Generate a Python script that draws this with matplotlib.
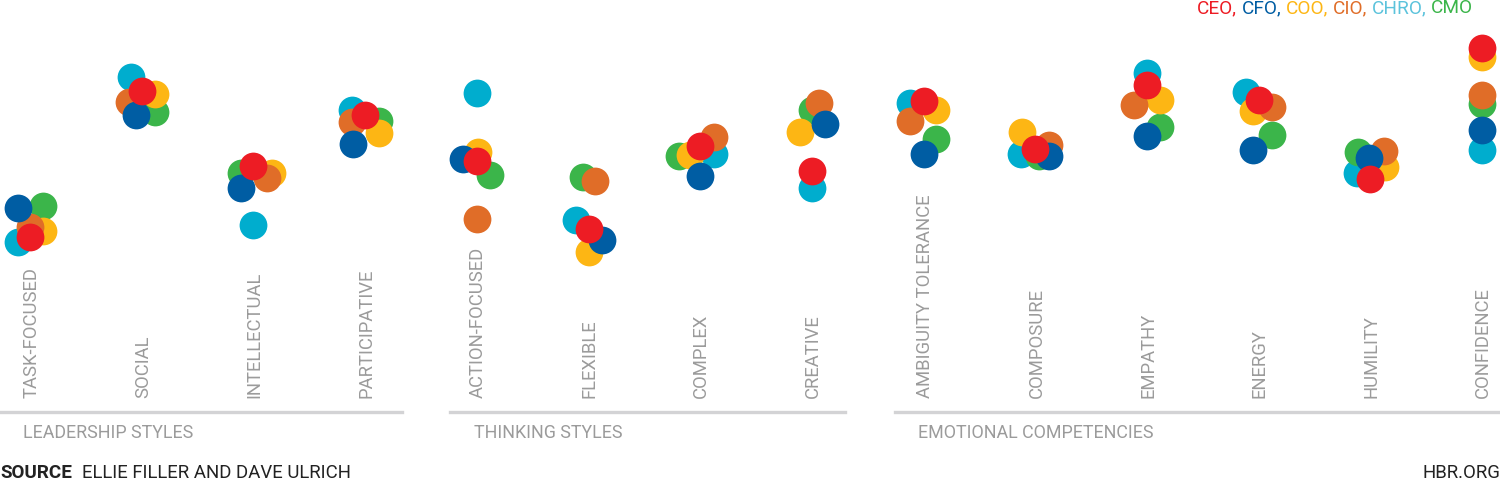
import matplotlib
matplotlib.use("Agg")
import matplotlib.pyplot as plt
import matplotlib.transforms as mtransforms

# ---------------- data ----------------
categories = ["TASK-FOCUSED", "SOCIAL", "INTELLECTUAL", "PARTICIPATIVE",
              "ACTION-FOCUSED", "FLEXIBLE", "COMPLEX", "CREATIVE",
              "AMBIGUITY TOLERANCE", "COMPOSURE", "EMPATHY", "ENERGY",
              "HUMILITY", "CONFIDENCE"]
groups = ["LEADERSHIP STYLES", "THINKING STYLES", "EMOTIONAL COMPETENCIES"]

roles = ["CEO", "CFO", "COO", "CIO", "CHRO", "CMO"]

# relative scores (higher = more)
ceo  = [6.3, 20.9, 13.4, 18.5, 13.9, 7.1, 15.4, 12.9, 19.9, 15.1, 21.5, 20.0, 12.1, 25.2]
cfo  = [9.2, 18.5, 11.2, 15.6, 14.1, 6.0, 12.4, 17.6, 14.6, 14.4, 16.4, 15.0, 14.2, 17.0]
coo  = [6.9, 20.6, 12.7, 16.7, 14.8, 4.8, 14.5, 16.8, 19.0, 16.8, 20.0, 18.9, 13.3, 24.3]
cio  = [7.3, 19.8, 12.2, 17.8, 8.1, 11.9, 16.3, 19.7, 17.9, 15.5, 19.5, 19.3, 14.9, 20.5]
chro = [5.8, 22.3, 7.5, 19.0, 20.7, 8.0, 14.6, 11.2, 19.7, 14.6, 22.7, 20.8, 12.7, 15.0]
cmo  = [9.4, 18.8, 12.7, 17.9, 12.5, 12.3, 14.4, 19.0, 16.1, 14.4, 17.3, 16.5, 14.8, 19.6]
series = [ceo, cfo, coo, cio, chro, cmo]

# horizontal jitter of each dot (in category widths)
jit_ceo  = [0.00, 0.00, 0.00, 0.00, 0.00, 0.00, 0.00, 0.00, 0.00, 0.00, 0.00, 0.00, 0.00, 0.00]
jit_cfo  = [-0.11, -0.05, -0.11, -0.11, -0.12, 0.12, 0.00, 0.12, 0.00, 0.12, 0.00, -0.05, -0.01, 0.00]
jit_coo  = [0.12, 0.12, 0.17, 0.12, 0.01, 0.00, -0.09, -0.11, 0.11, -0.12, 0.12, -0.05, 0.13, 0.00]
jit_cio  = [0.00, -0.11, 0.12, -0.12, 0.00, 0.06, 0.12, 0.06, -0.12, 0.12, -0.12, 0.12, 0.12, 0.00]
jit_chro = [-0.11, -0.10, 0.00, -0.12, 0.00, -0.11, 0.12, 0.00, -0.12, -0.13, 0.00, -0.11, -0.12, 0.00]
jit_cmo  = [0.12, 0.12, -0.11, 0.12, 0.12, -0.05, -0.19, 0.00, 0.11, 0.03, 0.12, 0.12, -0.11, 0.00]
jitters = [jit_ceo, jit_cfo, jit_coo, jit_cio, jit_chro, jit_cmo]

# ---------------- style ----------------
colors = {"CEO": "#ED1C24", "CFO": "#005DA3", "COO": "#FDB614",
          "CIO": "#E06D28", "CHRO": "#00ADCE", "CMO": "#3BB54A"}
legend_colors = {"CEO": "#ED1C24", "CFO": "#005DA3", "COO": "#FDB614",
                 "CIO": "#E06D28", "CHRO": "#5CC3DC", "CMO": "#3BB54A"}
draw_order = ["CHRO", "CMO", "COO", "CIO", "CFO", "CEO"]
label_gray = "#9B9B9B"
line_gray = "#D3D3D5"
FONT = ["Roboto", "DejaVu Sans"]

W, H = 1500, 480
fig = plt.figure(figsize=(W / 100, H / 100), dpi=100)
ax = fig.add_axes([0, 0, 1, 1])
ax.axis("off")

step = 111.7
x0 = 30.0
ax.set_xlim(-x0 / step, (W - x0) / step)
ax.set_ylim(-18, 30)

for r in draw_order:
    k = roles.index(r)
    xs = [i + j for i, j in enumerate(jitters[k])]
    ax.scatter(xs, series[k], s=400, color=colors[r], linewidths=0, zorder=3)

def fy(py):
    return 1 - py / H

blend = mtransforms.blended_transform_factory(ax.transData, fig.transFigure)
for i, c in enumerate(categories):
    ax.text(i + 0.01, fy(398), c, rotation=90, ha="center", va="bottom",
            transform=blend, color=label_gray, fontsize=13.3, family=FONT)

line_extents = [(0, 402), (450, 845), (895, 1500)]
label_x = [23, 474, 918]
for (a, b), g, lx in zip(line_extents, groups, label_x):
    fig.add_artist(plt.Line2D([a / W, b / W], [fy(412), fy(412)],
                              color=line_gray, linewidth=2.4,
                              transform=fig.transFigure))
    fig.text(lx / W, fy(433), g, ha="left", va="center",
             color=label_gray, fontsize=12.9, family=FONT)

src = fig.text(0, fy(473), "SOURCE", ha="left", va="center",
               color="#222222", fontsize=13.6, family=FONT, weight="bold")
fig.canvas.draw()
rend = fig.canvas.get_renderer()
bb = src.get_window_extent(rend)
fig.text((bb.x1 + 10) / W, fy(473), "ELLIE FILLER AND DAVE ULRICH",
         ha="left", va="center", color="#222222", fontsize=13.4, family=FONT)
fig.text(1, fy(473), "HBR.ORG", ha="right", va="center",
         color="#222222", fontsize=13.4, family=FONT)

# colored legend at top right, laid out right-to-left
pieces = []
for k, r in enumerate(roles):
    txt = r + ("," if k < len(roles) - 1 else "")
    pieces.append((txt, legend_colors[r]))
xr = 1473
for k in range(len(pieces) - 1, -1, -1):
    txt, col = pieces[k]
    t = fig.text(xr / W, fy(8), txt, ha="right", va="center",
                 color=col, fontsize=13.7, family=FONT)
    fig.canvas.draw()
    bb = t.get_window_extent(rend)
    xr = bb.x0 - 4.5

fig.savefig("out.png", dpi=100)
